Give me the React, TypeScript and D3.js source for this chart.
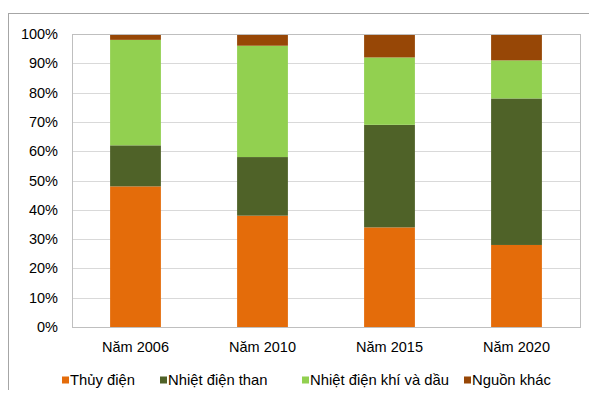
import React from "react";
import * as d3 from "d3";

// Electricity generation structure by source (percent of total)
const years = ["Năm 2006", "Năm 2010", "Năm 2015", "Năm 2020"];
const seriesNames = ["Thủy điện", "Nhiệt điện than", "Nhiệt điện khí và dầu", "Nguồn khác"];
const hydro = [48, 38, 34, 28];
const coal = [14, 20, 35, 50];
const gasOil = [36, 38, 23, 13];
const other = [2, 4, 8, 9];
const colors = ["#E46C0A", "#4F6228", "#92D050", "#974706"];
const yTicks = [0, 10, 20, 30, 40, 50, 60, 70, 80, 90, 100];

const W = 597;
const H = 398;
const plot = { left: 72, right: 580, top: 34, bottom: 327 };
const font = "'Liberation Sans', Arial, sans-serif";

export default function App() {
  const x = d3
    .scaleBand<string>()
    .domain(years)
    .range([plot.left, plot.right])
    .paddingInner(0.6)
    .paddingOuter(0.3);
  const y = d3.scaleLinear().domain([0, 100]).range([plot.bottom, plot.top]);

  const rows = years.map((yr, i) => ({
    year: yr,
    s0: hydro[i],
    s1: coal[i],
    s2: gasOil[i],
    s3: other[i],
  }));
  const stacked = d3.stack<any>().keys(["s0", "s1", "s2", "s3"])(rows);

  const legendX = [62, 160, 302, 464];

  return (
    <div style={{ margin: -8 }}>
      <svg width={W} height={H} style={{ display: "block", background: "#fff" }}>
        {/* outer frame */}
        <rect x={8.5} y={13.5} width={W} height={H} fill="none" stroke="#a6a6a6" strokeWidth={1} />

        {/* gridlines */}
        {yTicks.map((t) => (
          <line
            key={t}
            x1={plot.left}
            x2={plot.right}
            y1={Math.round(y(t)) + 0.5}
            y2={Math.round(y(t)) + 0.5}
            stroke="#d9d9d9"
            strokeWidth={1}
          />
        ))}

        {/* bars */}
        {stacked.map((layer, si) =>
          layer.map((d, i) => (
            <rect
              key={`${si}-${i}`}
              x={x(years[i])}
              width={x.bandwidth()}
              y={y(d[1])}
              height={y(d[0]) - y(d[1])}
              fill={colors[si]}
            />
          ))
        )}

        {/* plot border */}
        <rect
          x={plot.left + 0.5}
          y={plot.top + 0.5}
          width={plot.right - plot.left}
          height={plot.bottom - plot.top}
          fill="none"
          stroke="#bfbfbf"
          strokeWidth={1}
        />

        {/* y axis labels */}
        {yTicks.map((t) => (
          <text
            key={t}
            x={58}
            y={y(t)}
            dy="0.35em"
            textAnchor="end"
            fontFamily={font}
            fontSize={14.5}
            fill="#000"
          >
            {t}%
          </text>
        ))}

        {/* x axis labels */}
        {years.map((yr) => (
          <text
            key={yr}
            x={(x(yr) as number) + x.bandwidth() / 2}
            y={347}
            dy="0.35em"
            textAnchor="middle"
            fontFamily={font}
            fontSize={14.5}
            fill="#000"
          >
            {yr}
          </text>
        ))}

        {/* legend */}
        {seriesNames.map((name, i) => (
          <g key={name} transform={`translate(${legendX[i]},380)`}>
            <rect x={0} y={-3.5} width={7} height={7} fill={colors[i]} />
            <text x={8} y={0} dy="0.35em" fontFamily={font} fontSize={14.8} fill="#000">
              {name}
            </text>
          </g>
        ))}
      </svg>
    </div>
  );
}
